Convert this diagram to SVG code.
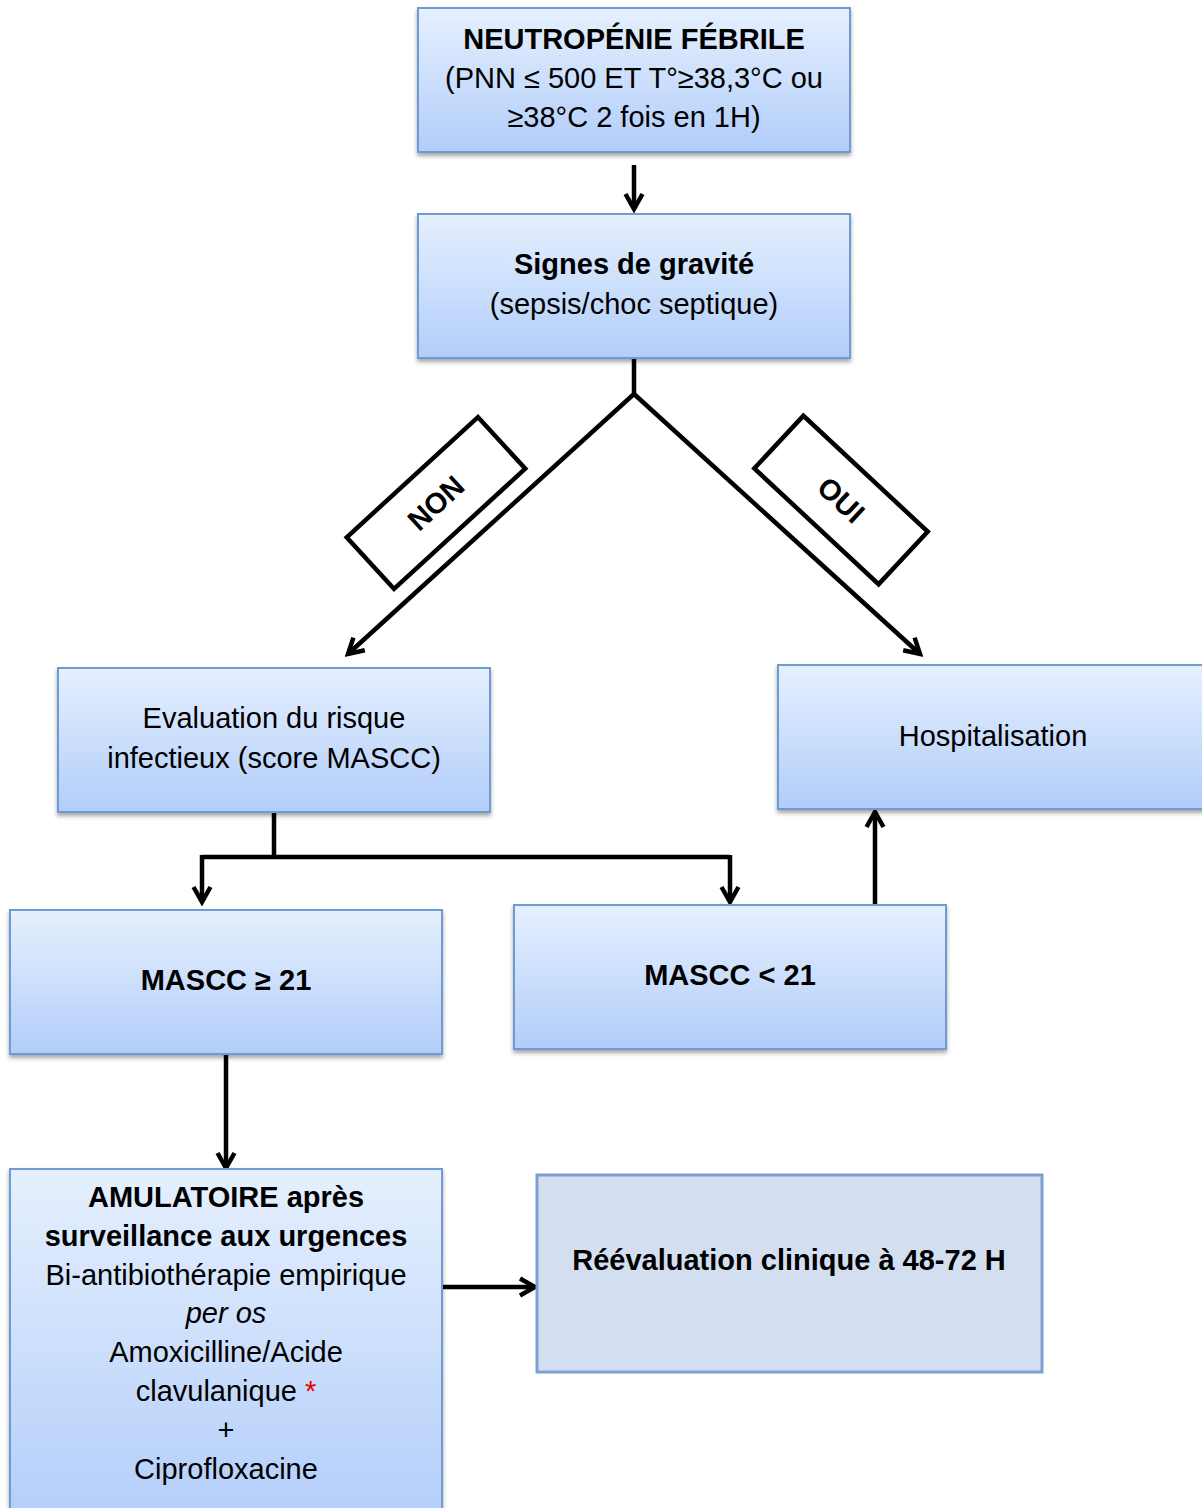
<svg xmlns="http://www.w3.org/2000/svg" width="1202" height="1508" viewBox="0 0 1202 1508">
<defs>
<linearGradient id="g" x1="0" y1="0" x2="0" y2="1">
<stop offset="0" stop-color="#e6f0fe"/>
<stop offset="1" stop-color="#b1cdfa"/>
</linearGradient>
<filter id="sh" x="-5%" y="-5%" width="110%" height="115%">
<feDropShadow dx="0" dy="3" stdDeviation="2" flood-color="#000" flood-opacity="0.35"/>
</filter>
<marker id="ah" viewBox="0 0 22 22" refX="18" refY="11" markerWidth="22" markerHeight="22" markerUnits="userSpaceOnUse" orient="auto">
<path d="M3,2.5 L18,11 L3,19.5" fill="none" stroke="#000" stroke-width="4.5"/>
</marker>
<style>
.box{fill:url(#g);stroke:#6e9bd1;stroke-width:2;filter:url(#sh)}
.t{font-family:"Liberation Sans",Arial,sans-serif;font-size:29px;fill:#000;text-anchor:middle}
.b{font-weight:bold}
.c{fill:none;stroke:#000;stroke-width:4.5}
.lab{fill:#fff;stroke:#000;stroke-width:4.5}
</style>
</defs>

<g id="connectors">
<line class="c" x1="634" y1="165" x2="634" y2="209" marker-end="url(#ah)"/>
<polyline class="c" points="634,358 634,394 348,654" marker-end="url(#ah)"/>
<polyline class="c" points="634,394 920,654" marker-end="url(#ah)"/>
<line class="c" x1="274" y1="812" x2="274" y2="857"/>
<polyline class="c" points="202,857 730,857"/>
<line class="c" x1="202" y1="855" x2="202" y2="902" marker-end="url(#ah)"/>
<line class="c" x1="730" y1="855" x2="730" y2="902" marker-end="url(#ah)"/>
<line class="c" x1="875" y1="905" x2="875" y2="812" marker-end="url(#ah)"/>
<line class="c" x1="226" y1="1054" x2="226" y2="1168" marker-end="url(#ah)"/>
<line class="c" x1="442" y1="1287" x2="535" y2="1287" marker-end="url(#ah)"/>
</g>

<g id="label-non" transform="translate(436,503) rotate(-42.5)">
<rect class="lab" x="-89" y="-35" width="178" height="70"/>
<text class="t b" x="0" y="10" font-size="27">NON</text>
</g>
<g id="label-oui" transform="translate(841,500) rotate(43)">
<rect class="lab" x="-85" y="-36" width="170" height="72"/>
<text class="t b" x="0" y="10" font-size="27">OUI</text>
</g>

<g id="n1">
<rect class="box" x="418" y="8" width="432" height="144"/>
<text class="t b" x="634" y="49">NEUTROPÉNIE FÉBRILE</text>
<text class="t" x="634" y="88">(PNN ≤ 500 ET T°≥38,3°C ou</text>
<text class="t" x="634" y="127">≥38°C 2 fois en 1H)</text>
</g>

<g id="n2">
<rect class="box" x="418" y="214" width="432" height="144"/>
<text class="t b" x="634" y="274">Signes de gravité</text>
<text class="t" x="634" y="314">(sepsis/choc septique)</text>
</g>

<g id="n3">
<rect class="box" x="58" y="668" width="432" height="144"/>
<text class="t" x="274" y="728">Evaluation du risque</text>
<text class="t" x="274" y="768">infectieux (score MASCC)</text>
</g>

<g id="n4">
<rect class="box" x="778" y="665" width="432" height="144"/>
<text class="t" x="993" y="746">Hospitalisation</text>
</g>

<g id="n5">
<rect class="box" x="10" y="910" width="432" height="144"/>
<text class="t b" x="226" y="990">MASCC ≥ 21</text>
</g>

<g id="n6">
<rect class="box" x="514" y="905" width="432" height="144"/>
<text class="t b" x="730" y="985">MASCC &lt; 21</text>
</g>

<g id="n7">
<rect class="box" x="10" y="1169" width="432" height="360"/>
<text class="t b" x="226" y="1207">AMULATOIRE après</text>
<text class="t b" x="226" y="1246">surveillance aux urgences</text>
<text class="t" x="226" y="1285">Bi-antibiothérapie empirique</text>
<text class="t" x="226" y="1323" font-style="italic">per os</text>
<text class="t" x="226" y="1362">Amoxicilline/Acide</text>
<text class="t" x="226" y="1401">clavulanique <tspan fill="#e00">*</tspan></text>
<text class="t" x="226" y="1440">+</text>
<text class="t" x="226" y="1479">Ciprofloxacine</text>
</g>

<g id="n8">
<rect x="537" y="1175" width="505" height="197" fill="#d3dff0" stroke="#7ea0d0" stroke-width="3"/>
<text class="t b" x="789" y="1270">Réévaluation clinique à 48-72 H</text>
</g>
</svg>
